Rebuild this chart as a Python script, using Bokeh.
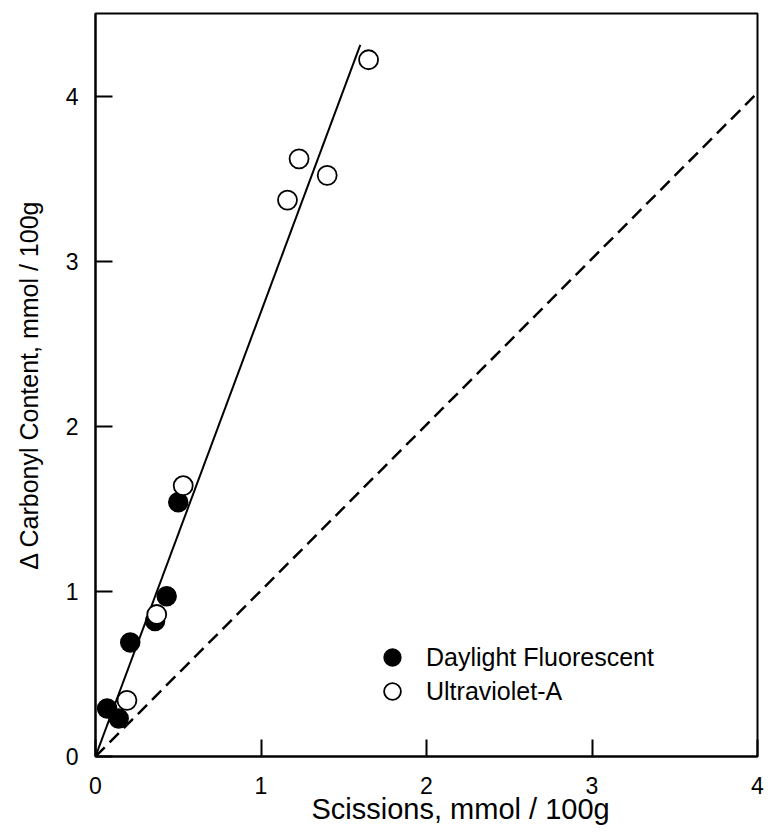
from bokeh.plotting import figure
from bokeh.models import Range1d, FixedTicker, Legend, LegendItem, Title
from bokeh.embed import file_html
from bokeh.resources import INLINE

# Data
daylight_x = [0.07, 0.14, 0.21, 0.36, 0.43, 0.50]
daylight_y = [0.29, 0.23, 0.69, 0.82, 0.97, 1.54]

uva_x = [0.19, 0.37, 0.53, 1.16, 1.23, 1.40, 1.65]
uva_y = [0.34, 0.86, 1.64, 3.37, 3.62, 3.52, 4.22]

fit_x = [0.0, 1.60]
fit_y = [0.0, 4.31]

ref_x = [0.0, 4.0]
ref_y = [0.0, 4.02]

ticks = [0, 1, 2, 3, 4]

x_title = "Scissions, mmol / 100g"
y_title = "\u0394 Carbonyl Content, mmol / 100g"

FONT = "Liberation Sans"

p = figure(frame_width=662, frame_height=743, output_backend="svg",
           toolbar_location=None,
           x_range=Range1d(0, 4), y_range=Range1d(0, 4.5),
           min_border_left=95, min_border_right=11, min_border_top=13,
           min_border_bottom=74)

p.xgrid.visible = False
p.ygrid.visible = False
p.outline_line_color = "black"
p.outline_line_width = 2
p.outline_line_alpha = 1

for ax in (p.xaxis[0], p.yaxis[0]):
    ax.ticker = FixedTicker(ticks=ticks)
    ax.axis_line_width = 2
    ax.axis_line_color = "black"
    ax.major_tick_in = 17
    ax.major_tick_out = 0
    ax.major_tick_line_width = 2
    ax.major_tick_line_color = "black"
    ax.minor_tick_line_color = None
    ax.major_label_text_font = FONT
    ax.major_label_text_font_size = "23px"
    ax.major_label_text_color = "black"
    ax.axis_label_text_font = FONT
    ax.axis_label_text_font_style = "normal"
    ax.axis_label_text_color = "black"

p.yaxis.axis_label = y_title
p.yaxis.axis_label_text_font_size = "25px"
p.xaxis.major_label_standoff = 20
p.yaxis.major_label_standoff = 17
p.yaxis.axis_label_standoff = 20

# x-axis title, placed slightly right of centre as in the reference
p.add_layout(Title(text=x_title, align="left", offset=216, standoff=-11,
                   vertical_align="bottom",
                   text_font=FONT, text_font_size="29px",
                   text_font_style="normal", text_color="black"), "below")

p.line(ref_x, ref_y, line_color="black", line_width=2.5, line_dash="13 7")
p.line(fit_x, fit_y, line_color="black", line_width=2)

r_day = p.scatter(daylight_x, daylight_y, marker="circle", size=19,
                  fill_color="black", line_color="black", line_width=1.5)
r_uva = p.scatter(uva_x, uva_y, marker="circle", size=19,
                  fill_color="white", line_color="black", line_width=1.8)

legend_style = dict(orientation="vertical", glyph_width=42, glyph_height=42,
                    label_standoff=13, padding=0, margin=0,
                    border_line_color=None, background_fill_alpha=0,
                    label_text_font=FONT, label_text_font_size="25px",
                    label_text_color="black")
legend_day = Legend(items=[LegendItem(label="Daylight Fluorescent", renderers=[r_day])],
                    location=(276, 78), **legend_style)
legend_uva = Legend(items=[LegendItem(label="Ultraviolet-A", renderers=[r_uva])],
                    location=(276, 44), **legend_style)
p.add_layout(legend_day)
p.add_layout(legend_uva)

open("out.html", "w").write(file_html(p, INLINE))
